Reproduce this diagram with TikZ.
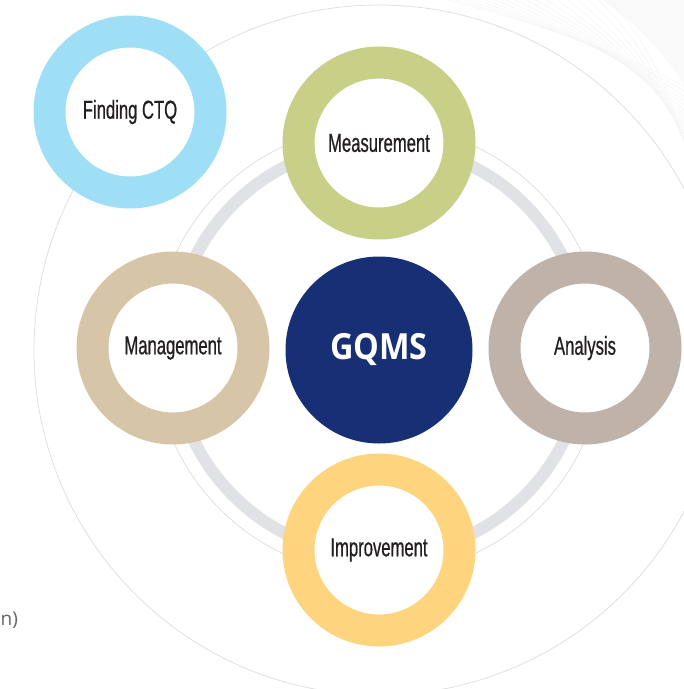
\documentclass[tikz,border=0pt]{standalone}
\usepackage{fontspec}
\setmainfont{Liberation Sans}
\newfontfamily\etiquette[FakeStretch=0.64, FakeBold=0.6]{Liberation Sans}
\newfontfamily\titre[FakeStretch=0.9]{Open Sans}
\newfontfamily\note{Open Sans}
\definecolor{bleuciel}{HTML}{9EDFF5}
\definecolor{olive}{HTML}{C8CF86}
\definecolor{sable}{HTML}{D6C5A7}
\definecolor{taupe}{HTML}{BFB3A9}
\definecolor{jaune}{HTML}{FED47F}
\definecolor{marine}{HTML}{162F75}
\definecolor{grisanneau}{HTML}{E1E2E6}
\definecolor{gristrait}{HTML}{E0E0E0}
\definecolor{texte}{HTML}{231F20}
\begin{document}
\begin{tikzpicture}[x=1pt, y=-1pt]
			\tikzset{anneau/.style={circle, draw=#1, line width=32pt, fill=white, inner sep=0pt, minimum size=161pt, text=texte, font=\etiquette\fontsize{26}{28}\selectfont},
			centre/.style={circle, fill=marine, inner sep=0pt, minimum size=187pt, text=white, font=\titre\bfseries\fontsize{36}{40}\selectfont},
			trait/.style={draw=gristrait, line width=0.8pt}};

			\useasboundingbox (0,0) rectangle (684,689);
			\clip (0,0) rectangle (684,689);
			\fill[white] (0,0) rectangle (684,689);

			% fond en haut a droite
			\foreach \i in {0,...,16}
				\draw[black!4, line width=0.5pt] (430+\i*11,-4) .. controls (550+\i*7,25+\i*2) and (640+\i*2,60+\i*3) .. (700,95+\i*6);
			\fill[black!4, opacity=0.5] (600,-2) .. controls (645,30) and (670,60) .. (690,95) -- (690,-2) -- cycle;

			\coordinate (o) at (379,350);
			\draw[trait] (o) circle[radius=345pt];
			\draw[trait] (o) circle[radius=225pt];
			\draw[draw=grisanneau, line width=12pt] (o) circle[radius=206pt];

			\node[centre] (gqms) at (379,350) {GQMS};
			\node[anneau=olive] (mes) at (379,143) {Measurement};
			\node[anneau=jaune] (amel) at (379,550) {Improvement};
			\node[anneau=sable] (gest) at (173,348) {Management};
			\node[anneau=taupe] (ana) at (585,348) {Analysis};
			\node[anneau=bleuciel] (ctq) at (130,112) {Finding CTQ};

			\node[anchor=base west, text=black!60, font=\note\fontsize{19}{22}\selectfont, inner sep=0pt] (reste) at (0.5,625) {n)};

		\end{tikzpicture}
\end{document}
